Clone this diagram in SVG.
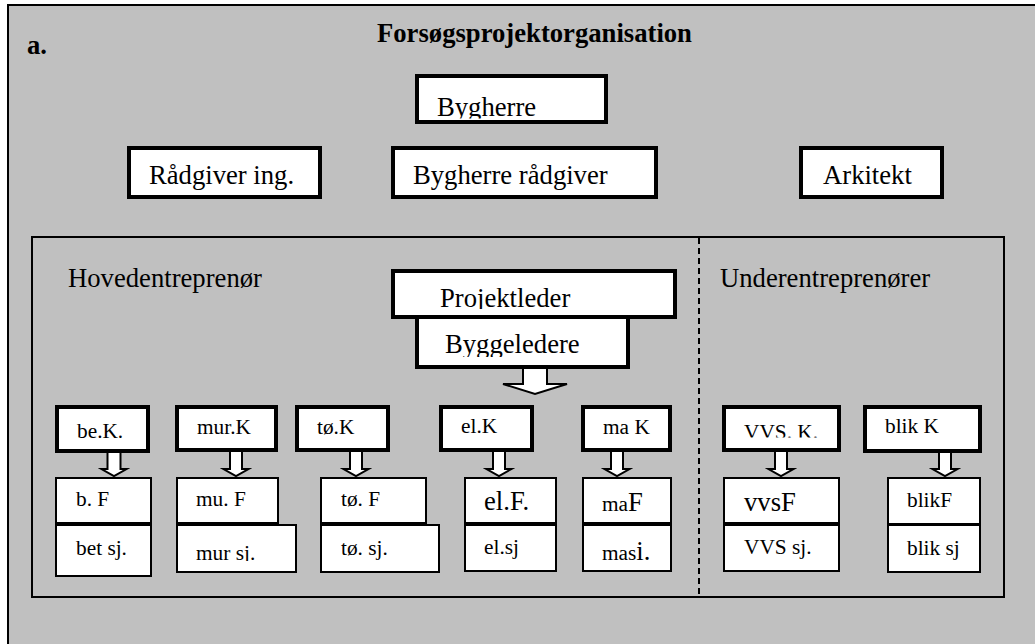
<svg xmlns="http://www.w3.org/2000/svg" width="1035" height="644" viewBox="0 0 1035 644">
<style>
.bg{fill:#c0c0c0;stroke:#000;stroke-width:2}
.frame{fill:none;stroke:#000;stroke-width:2}
.dash{fill:none;stroke:#000;stroke-width:2;stroke-dasharray:6 4}
.box{fill:#fff;stroke:#000;stroke-width:4}
.sbox{fill:#fff;stroke:#000;stroke-width:2}
.arr{fill:#fff;stroke:#000;stroke-width:2;stroke-linejoin:miter}
text{font-family:"Liberation Serif","Times New Roman",serif;fill:#000}
.b{font-size:26.67px}
.s{font-size:21.33px}
.bold{font-weight:bold}
</style>
<defs>
<clipPath id="cBygherre"><rect x="417" y="76" width="189" height="42.5"/></clipPath>
<clipPath id="cProj"><rect x="393" y="271" width="282" height="38"/></clipPath>
<clipPath id="cBygg"><rect x="417" y="321" width="211" height="36"/></clipPath>
<clipPath id="cVVSK"><rect x="724" y="407" width="115" height="30.5"/></clipPath>
<clipPath id="cMursj"><rect x="177" y="526" width="119" height="35"/></clipPath>
</defs>

<rect class="bg" x="8" y="5" width="1100" height="700"/>
<text class="b bold" x="377" y="42">Forsøgsprojektorganisation</text>
<text class="b bold" x="27" y="54">a.</text>

<rect class="frame" x="32" y="237" width="972" height="360"/>
<line class="dash" x1="699" y1="238" x2="699" y2="597"/>
<text class="b" x="68" y="287">Hovedentreprenør</text>
<text class="b" x="720" y="287">Underentreprenører</text>

<g id="connectors">
<path class="arr" d="M523,367 V384 H503 L535,394 L567,384 H547 V367 Z"/>
<path class="arr" d="M107.5,452 V469 H101.5 L114,476 L126.5,469 H120.5 V452 Z"/>
<path class="arr" d="M230,451 V469 H223.5 L236,476 L248.5,469 H242 V451 Z"/>
<path class="arr" d="M350,451 V469 H343.5 L356,476 L368.5,469 H362 V451 Z"/>
<path class="arr" d="M493,451 V469 H486.5 L499,476 L511.5,469 H505 V451 Z"/>
<path class="arr" d="M611,451 V469 H604.5 L617,476 L629.5,469 H623 V451 Z"/>
<path class="arr" d="M775,451 V469 H768.5 L781,476 L793.5,469 H787 V451 Z"/>
<path class="arr" d="M939,452 V469 H932.5 L945,476 L957.5,469 H951 V452 Z"/>
</g>

<g id="bygherre">
<rect class="box" x="417" y="76" width="189" height="46"/>
<text class="b" x="437" y="116" clip-path="url(#cBygherre)">Bygherre</text>
</g>
<g id="raadgiver-ing">
<rect class="box" x="129" y="148" width="191" height="49"/>
<text class="b" x="149" y="184">Rådgiver ing.</text>
</g>
<g id="bygherre-raadgiver">
<rect class="box" x="393" y="148" width="263" height="49"/>
<text class="b" x="413" y="184">Bygherre rådgiver</text>
</g>
<g id="arkitekt">
<rect class="box" x="801" y="148" width="141" height="49"/>
<text class="b" x="823" y="184">Arkitekt</text>
</g>

<g id="byggeledere">
<rect class="box" x="417" y="317" width="211" height="50"/>
<text class="b" x="445" y="353" clip-path="url(#cBygg)">Byggeledere</text>
</g>
<g id="projektleder">
<rect class="box" x="393" y="271" width="282" height="46"/>
<text class="b" x="440" y="307" clip-path="url(#cProj)">Projektleder</text>
</g>

<g id="be-k">
<rect class="box" x="57" y="407" width="91" height="44"/>
<text class="s" x="77" y="438">be.K.</text>
</g>
<g id="mur-k">
<rect class="box" x="177" y="407" width="99" height="43"/>
<text class="s" x="197" y="434">mur.K</text>
</g>
<g id="toe-k">
<rect class="box" x="297" y="407" width="91" height="43"/>
<text class="s" x="317" y="434">tø.K</text>
</g>
<g id="el-k">
<rect class="box" x="441" y="407" width="91" height="43"/>
<text class="s" x="461" y="433">el.K</text>
</g>
<g id="ma-k">
<rect class="box" x="583" y="407" width="87" height="43"/>
<text class="s" x="603" y="434">ma K</text>
</g>
<g id="vvs-k">
<rect class="box" x="724" y="407" width="115" height="43"/>
<text class="s" x="744" y="439" clip-path="url(#cVVSK)">VVS. K.</text>
</g>
<g id="blik-k">
<rect class="box" x="865" y="407" width="115" height="44"/>
<text class="s" x="885" y="433">blik K</text>
</g>

<g id="b-f">
<rect class="sbox" x="56" y="478" width="95" height="45"/>
<text class="s" x="76" y="506">b. F</text>
</g>
<g id="bet-sj">
<rect class="sbox" x="56" y="525" width="95" height="51"/>
<text class="s" x="76" y="555">bet sj.</text>
</g>
<g id="mu-f">
<rect class="sbox" x="177" y="478" width="101" height="45"/>
<text class="s" x="196" y="506">mu. F</text>
</g>
<g id="mur-sj">
<rect class="sbox" x="177" y="525" width="119" height="47"/>
<text class="s" x="196" y="560" clip-path="url(#cMursj)">mur sj.</text>
</g>
<g id="toe-f">
<rect class="sbox" x="321" y="478" width="105" height="45"/>
<text class="s" x="341" y="506">tø. F</text>
</g>
<g id="toe-sj">
<rect class="sbox" x="321" y="525" width="118" height="47"/>
<text class="s" x="341" y="555">tø. sj.</text>
</g>
<g id="el-f">
<rect class="sbox" x="465" y="478" width="91" height="45"/>
<text class="b" x="484" y="510">el.F.</text>
</g>
<g id="el-sj">
<rect class="sbox" x="465" y="525" width="91" height="46"/>
<text class="s" x="484" y="554">el.sj</text>
</g>
<g id="ma-f">
<rect class="sbox" x="583" y="478" width="88" height="45"/>
<text class="s" x="602" y="511">ma<tspan class="b">F</tspan></text>
</g>
<g id="ma-sj">
<rect class="sbox" x="583" y="525" width="88" height="46"/>
<text class="s" x="602" y="560">mas<tspan class="b">i.</tspan></text>
</g>
<g id="vvs-f">
<rect class="sbox" x="724" y="478" width="115" height="45"/>
<text class="b" x="744" y="511">vvsF</text>
</g>
<g id="vvs-sj">
<rect class="sbox" x="724" y="525" width="115" height="46"/>
<text class="s" x="744" y="554">VVS sj.</text>
</g>
<g id="blik-f">
<rect class="sbox" x="888" y="478" width="92" height="46"/>
<text class="s" x="907" y="507">blikF</text>
</g>
<g id="blik-sj">
<rect class="sbox" x="888" y="525" width="92" height="47"/>
<text class="s" x="907" y="555">blik sj</text>
</g>
</svg>
